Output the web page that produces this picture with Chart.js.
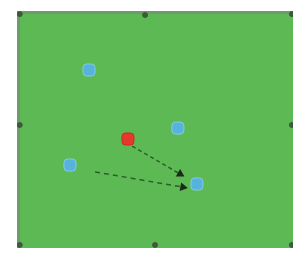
<!DOCTYPE html>
<html>
<head>
<meta charset="utf-8">
<script src="https://cdn.jsdelivr.net/npm/chart.js@4.4.1/dist/chart.umd.min.js"></script>
<style>
  html, body { margin: 0; padding: 0; background: #fff; }
  #wrap { width: 294px; height: 258px; }
</style>
</head>
<body>
<div id="wrap"><canvas id="pitch"></canvas></div>
<script>
'use strict';

// positions on a 0..100 pitch, y measured from the top
const conesX = [1, 46.4, 99.6, 1, 99.6, 1, 50, 99.6];
const conesY = [1.3, 1.7, 1.3, 48.1, 48.1, 98.7, 98.7, 98.7];

const blueX = [26.1, 58.3, 19.2, 65.2];
const blueY = [24.9, 49.4, 65.0, 73.0];

const redX = [40.2];
const redY = [54.0];

const runX = [41.7, 59.1];
const runY = [57.0, 68.8];

const passX = [28.3, 60.1];
const passY = [67.9, 74.3];

function toPoints(xs, ys){
    return xs.map((x, i) => ({x: x, y: ys[i]}));
}

const pitchBackground = {
    id: 'pitchBackground',
    beforeDraw(chart){
        const {ctx, chartArea} = chart;
        ctx.save();
        ctx.fillStyle = '#5db953';
        ctx.fillRect(chartArea.left, chartArea.top, chartArea.width, chartArea.height);
        ctx.strokeStyle = '#6f9a6b';
        ctx.lineWidth = 3;
        ctx.beginPath();
        ctx.moveTo(chartArea.left + 1.5, chartArea.bottom);
        ctx.lineTo(chartArea.left + 1.5, chartArea.top + 1.5);
        ctx.lineTo(chartArea.right, chartArea.top + 1.5);
        ctx.stroke();
        ctx.restore();
    }
};

const config = {
    type: 'scatter',
    data: {
        datasets: [
            {
                label: 'Run',
                data: toPoints(runX, runY),
                showLine: true,
                borderColor: 'rgba(35,80,35,0.85)',
                borderWidth: 1.5,
                borderDash: [4, 3],
                pointStyle: 'triangle',
                pointRadius: [0, 3.5],
                pointRotation: [0, 120],
                pointBackgroundColor: '#1b2a1b',
                pointBorderColor: '#1b2a1b'
            },
            {
                label: 'Pass',
                data: toPoints(passX, passY),
                showLine: true,
                borderColor: 'rgba(35,80,35,0.85)',
                borderWidth: 1.5,
                borderDash: [5, 4],
                pointStyle: 'triangle',
                pointRadius: [0, 3.5],
                pointRotation: [0, 100],
                pointBackgroundColor: '#1b2a1b',
                pointBorderColor: '#1b2a1b'
            },
            {
                label: 'Cones',
                data: toPoints(conesX, conesY),
                pointStyle: 'circle',
                pointRadius: 2.5,
                pointBackgroundColor: '#3d5a3a',
                pointBorderColor: '#3d5a3a'
            },
            {
                label: 'Blue',
                data: toPoints(blueX, blueY),
                pointStyle: 'rectRounded',
                pointRadius: 7,
                pointBackgroundColor: '#55b3dc',
                pointBorderColor: '#86cbe8',
                pointBorderWidth: 1
            },
            {
                label: 'Red',
                data: toPoints(redX, redY),
                pointStyle: 'rectRounded',
                pointRadius: 7,
                pointBackgroundColor: '#e5392f',
                pointBorderColor: '#d02a22',
                pointBorderWidth: 1
            }
        ]
    },
    options: {
        responsive: true,
        maintainAspectRatio: false,
        animation: false,
        layout: { autoPadding: false, padding: { left: 17, right: 1, top: 11, bottom: 10 } },
        plugins: {
            legend: { display: false },
            tooltip: { enabled: false }
        },
        scales: {
            x: { type: 'linear', min: 0, max: 100, display: false },
            y: { type: 'linear', min: 0, max: 100, reverse: true, display: false }
        }
    },
    plugins: [pitchBackground]
};

new Chart(document.getElementById('pitch'), config);
</script>
</body>
</html>
